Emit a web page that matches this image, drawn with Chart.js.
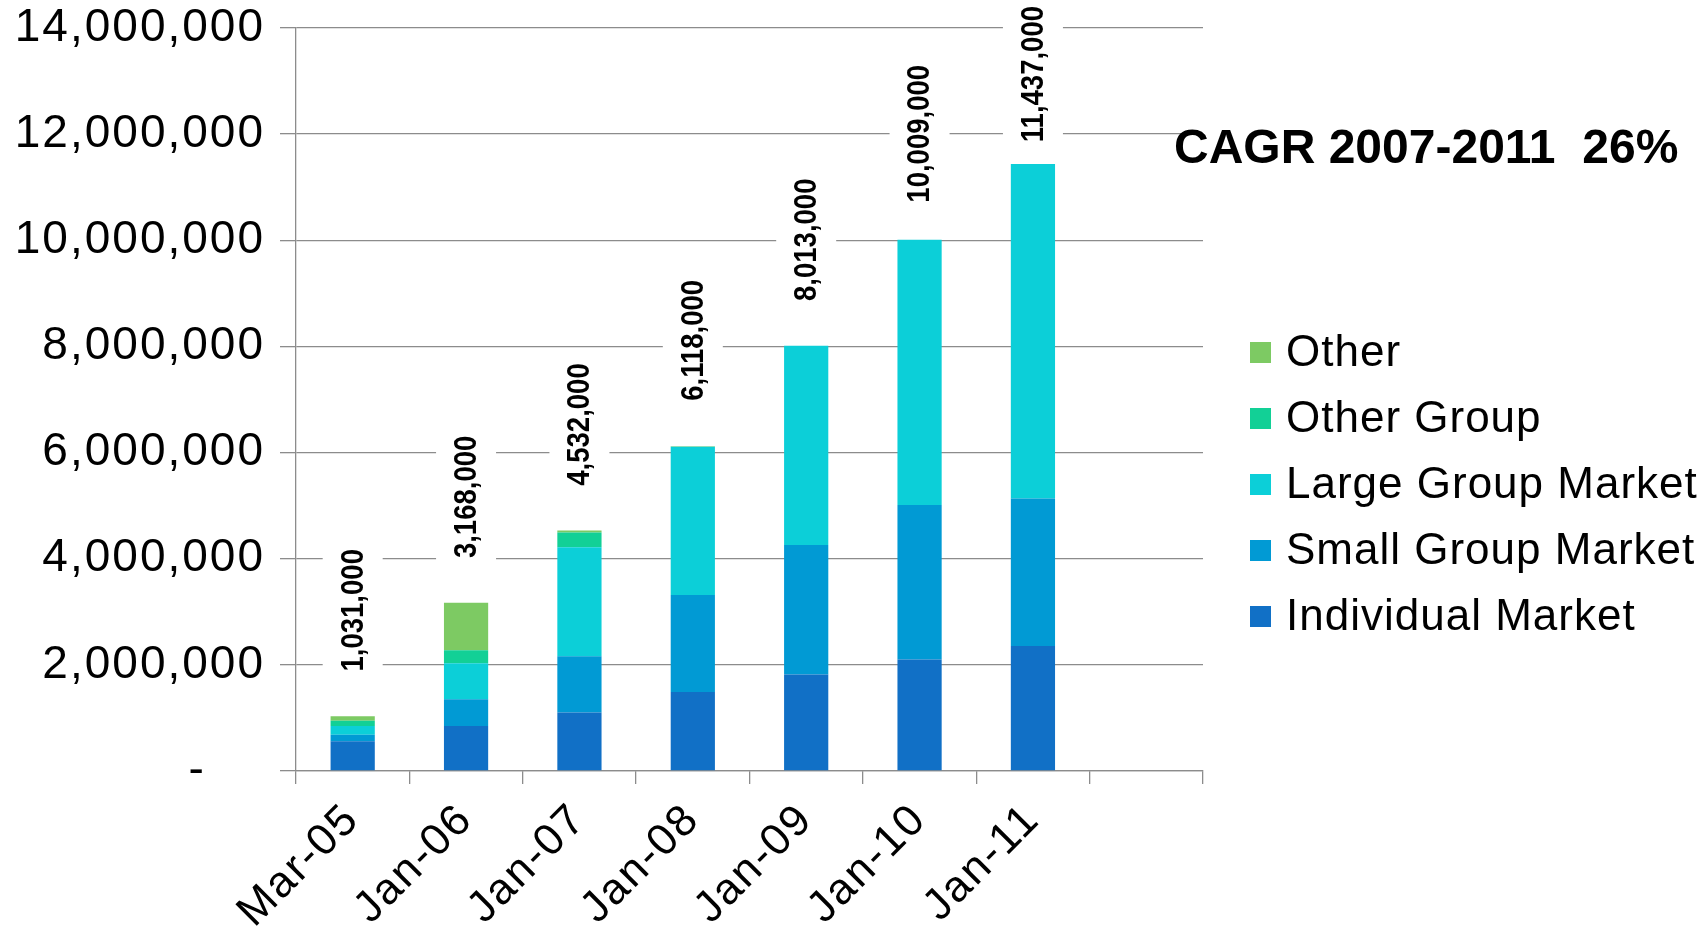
<!DOCTYPE html>
<html>
<head>
<meta charset="utf-8">
<script src="https://cdn.jsdelivr.net/npm/chart.js@4.4.0/dist/chart.umd.min.js"></script>
<style>
  html, body { margin: 0; padding: 0; background: #fff; }
  #wrap { width: 1704px; height: 942px; }
</style>
</head>
<body>
<div id="wrap"><canvas id="chart" width="1704" height="942"></canvas></div>
<script>
// categories (last slot is empty in the original)
const categories = ['Mar-05', 'Jan-06', 'Jan-07', 'Jan-08', 'Jan-09', 'Jan-10', 'Jan-11', ''];

// stacked series, bottom to top
const individual = [560000, 850000, 1100000, 1490000, 1820000, 2100000, 2356000, null];
const smallGroup = [125000, 500000, 1060000, 1825000, 2440000, 2910000, 2778000, null];
const largeGroup = [165000, 680000, 2055000, 2795000, 3753000, 4999000, 6303000, null];
const otherGroup = [95000, 245000, 277000, 0, 0, 0, 0, null];
const other = [86000, 893000, 40000, 8000, 0, 0, 0, null];

// labels printed above each bar
const totals = [1031000, 3168000, 4532000, 6118000, 8013000, 10009000, 11437000];

const yTicks = [0, 2000000, 4000000, 6000000, 8000000, 10000000, 12000000, 14000000];

const cagrText = 'CAGR 2007-2011  26%';

const FONT = '"Liberation Sans", Arial, sans-serif';
const GRID = '#8c8c8c';

// the original text is set a little wide
const spacingPlugin = {
  id: 'spacing',
  beforeDraw(chart) { chart.ctx.letterSpacing = '2px'; }
};

// totals above bars + CAGR note + legend
const extrasPlugin = {
  id: 'extras',
  afterDatasetsDraw(chart) {
    const ctx = chart.ctx;
    const y = chart.scales.y;
    const meta = chart.getDatasetMeta(0);
    const sx = 0.86;

    ctx.save();
    ctx.letterSpacing = '0px';
    ctx.font = 'bold 32px ' + FONT;
    ctx.textAlign = 'center';
    ctx.textBaseline = 'middle';
    totals.forEach((t, i) => {
      const bx = meta.data[i].x;
      const txt = t.toLocaleString('en-US');
      const w = ctx.measureText(txt).width * sx;
      // keep the label inside the canvas
      const cy = Math.max(y.getPixelForValue(t) - 106, w / 2 + 6);
      ctx.save();
      ctx.translate(bx, cy);
      ctx.rotate(-Math.PI / 2);
      ctx.fillStyle = '#fff';
      ctx.fillRect(-w / 2 - 4, -30, w + 8, 60);
      ctx.scale(sx, 1);
      ctx.fillStyle = '#000';
      ctx.fillText(txt, 0, 1);
      ctx.restore();
    });

    ctx.font = 'bold 48px ' + FONT;
    ctx.textAlign = 'left';
    ctx.fillStyle = '#000';
    ctx.fillText(cagrText, 1174, 150);

    // legend, top item = top of the stack
    ctx.letterSpacing = '1px';
    ctx.font = '44px ' + FONT;
    const sets = chart.data.datasets.slice().reverse();
    sets.forEach((ds, i) => {
      const cy = 353 + i * 66;
      ctx.fillStyle = ds.backgroundColor;
      ctx.fillRect(1250, cy - 11, 21, 21);
      ctx.fillStyle = '#000';
      ctx.fillText(ds.label, 1286, cy + 1);
    });
    ctx.restore();
  }
};

const mkSet = (label, data, color) => ({
  label: label,
  data: data,
  backgroundColor: color,
  borderWidth: 0,
  categoryPercentage: 1,
  barPercentage: 0.39
});

new Chart(document.getElementById('chart'), {
  type: 'bar',
  data: {
    labels: categories,
    datasets: [
      mkSet('Individual Market', individual, '#1170c6'),
      mkSet('Small Group Market', smallGroup, '#019ad4'),
      mkSet('Large Group Market', largeGroup, '#0ccfd8'),
      mkSet('Other Group', otherGroup, '#12d096'),
      mkSet('Other', other, '#7dca63')
    ]
  },
  options: {
    responsive: false,
    animation: false,
    layout: { padding: { top: 28, right: 501, left: 0, bottom: 0 } },
    plugins: {
      legend: { display: false },
      tooltip: { enabled: false }
    },
    scales: {
      x: {
        stacked: true,
        afterFit(scale) { scale.height = 171; },
        grid: { offset: true, drawOnChartArea: false, drawTicks: true, tickLength: 13, color: GRID, lineWidth: 1.3 },
        border: { color: GRID, width: 1.3 },
        ticks: {
          minRotation: 45, maxRotation: 45, autoSkip: false,
          color: '#000', padding: 10,
          font: { family: FONT, size: 44 }
        }
      },
      y: {
        stacked: true,
        min: 0, max: 14000000,
        afterFit(scale) {
          scale.width = 296;
          scale.paddingTop = 0;
          scale.paddingBottom = 0;
        },
        afterBuildTicks(scale) { scale.ticks = yTicks.map(v => ({ value: v })); },
        grid: { color: GRID, lineWidth: 1.3, tickLength: 16 },
        border: { color: GRID, width: 1.3 },
        ticks: {
          color: '#000', padding: 15,
          font: { family: FONT, size: 46 },
          callback: v => v === 0 ? '-    ' : v.toLocaleString('en-US')
        }
      }
    }
  },
  plugins: [spacingPlugin, extrasPlugin]
});
</script>
</body>
</html>
